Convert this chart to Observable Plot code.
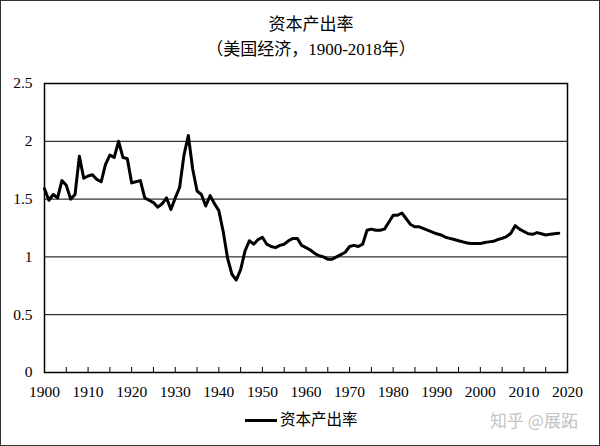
<!DOCTYPE html>
<html>
<head>
<meta charset="utf-8">
<script src="https://cdn.jsdelivr.net/npm/d3@7"></script>
<script src="https://cdn.jsdelivr.net/npm/@observablehq/plot@0.6"></script>
<style>
  html, body { margin: 0; padding: 0; background: #fff; }
  #wrap { position: relative; width: 600px; height: 446px; box-sizing: border-box; border: 1px solid #333; background: #fff;
          font-family: "Liberation Serif", "Noto Sans CJK SC", serif; color: #000; overflow: hidden; }
  .abs { position: absolute; white-space: nowrap; }
  #title, #subtitle { left: 110px; width: 400px; text-align: center; font-size: 17px; line-height: 20px; }
  #title { top: 14px; }
  #subtitle { top: 39px; }
  #chart { position: absolute; left: 0; top: 69px; }
  #legline { left: 244px; top: 418px; width: 32px; height: 3px; background: #000; }
  #legtext { left: 279px; top: 409px; font-size: 15.5px; line-height: 20px; }
  #mark { left: 489px; top: 408px; font-size: 17px; line-height: 22px; color: #c4c4c4; font-family: "Noto Sans CJK SC", sans-serif; }
</style>
</head>
<body>
<div id="wrap">
  <div id="title" class="abs"></div>
  <div id="subtitle" class="abs"></div>
  <div id="chart"></div>
  <div id="legline" class="abs"></div>
  <div id="legtext" class="abs"></div>
  <div id="mark" class="abs"></div>
</div>
<script>
const titleText = "资本产出率";
const subtitleText = "（美国经济，1900-2018年）";
const seriesName = "资本产出率";
const watermark = "知乎 @展跖";

const years = d3.range(1900, 2019);
const ratio = [
  1.59, 1.49, 1.54, 1.51, 1.66, 1.62, 1.50, 1.54, 1.87, 1.68,   // 1900-1909
  1.70, 1.71, 1.67, 1.65, 1.80, 1.88, 1.86, 2.00, 1.86, 1.85,   // 1910-1919
  1.64, 1.65, 1.66, 1.51, 1.49, 1.47, 1.43, 1.46, 1.51, 1.41,   // 1920-1929
  1.51, 1.60, 1.88, 2.05, 1.76, 1.57, 1.54, 1.44, 1.53, 1.46,   // 1930-1939
  1.40, 1.22, 0.99, 0.85, 0.80, 0.89, 1.05, 1.14, 1.11, 1.15,   // 1940-1949
  1.17, 1.11, 1.09, 1.08, 1.10, 1.11, 1.14, 1.16, 1.16, 1.10,   // 1950-1959
  1.08, 1.06, 1.03, 1.01, 1.00, 0.98, 0.98, 1.00, 1.02, 1.04,   // 1960-1969
  1.09, 1.10, 1.09, 1.11, 1.23, 1.24, 1.23, 1.23, 1.24, 1.30,   // 1970-1979
  1.36, 1.36, 1.38, 1.33, 1.28, 1.26, 1.26, 1.245, 1.23, 1.215, // 1980-1989
  1.20, 1.19, 1.17, 1.16, 1.15, 1.14, 1.13, 1.12, 1.115, 1.115, // 1990-1999
  1.115, 1.125, 1.13, 1.135, 1.15, 1.16, 1.175, 1.205, 1.27, 1.24, // 2000-2009
  1.22, 1.20, 1.195, 1.21, 1.20, 1.19, 1.195, 1.20, 1.205        // 2010-2018
];
const xTickLabels = d3.range(1900, 2021, 10);
const xTickMarks = d3.range(1900, 2021, 5);
const yTicks = [0, 0.5, 1, 1.5, 2, 2.5];
const gridValues = [0.5, 1, 1.5, 2];

const data = years.map((y, i) => ({year: y, value: ratio[i]}));

document.getElementById("title").textContent = titleText;
document.getElementById("subtitle").textContent = subtitleText;
document.getElementById("legtext").textContent = seriesName;
document.getElementById("mark").textContent = watermark;

const mTop = 13, mBottom = 34, H = 336;
const plot = Plot.plot({
  width: 598,
  height: H,
  marginLeft: 43,
  marginRight: 32,
  marginTop: mTop,
  marginBottom: mBottom,
  style: {fontFamily: "'Liberation Serif', serif", fontSize: "15.5px", color: "#000", background: "transparent"},
  x: {domain: [1900, 2020], label: null},
  y: {domain: [0, 2.5], label: null},
  marks: [
    Plot.gridY(gridValues, {stroke: "#000", strokeOpacity: 1, strokeWidth: 1}),
    Plot.tickX(xTickMarks, {x: d => d, stroke: "#000", strokeWidth: 1, insetTop: H - mTop - mBottom - 5}),
    Plot.axisY(yTicks, {tickSize: 0, tickPadding: 12, tickFormat: d => String(d), label: null}),
    Plot.axisX(xTickLabels, {tickSize: 0, tickPadding: 13, tickFormat: d => String(d), label: null}),
    Plot.line(data, {x: "year", y: "value", stroke: "#000", strokeWidth: 3, strokeLinejoin: "round", strokeLinecap: "round"}),
    Plot.frame({stroke: "#000", strokeWidth: 1.5})
  ]
});
document.getElementById("chart").appendChild(plot);
</script>
</body>
</html>
